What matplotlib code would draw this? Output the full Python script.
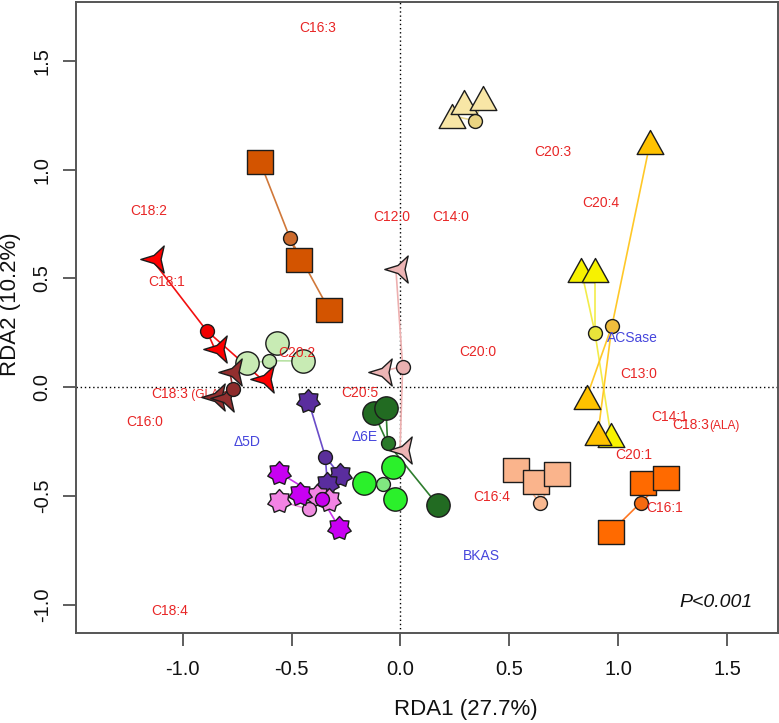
import numpy as np
import matplotlib
matplotlib.use("Agg")
import matplotlib.pyplot as plt
from matplotlib.path import Path

plt.rcParams['font.family'] = ['Liberation Sans', 'DejaVu Sans']

# ---------------- data (site scores: members + group centroid) ----------------
khaki_x = [0.235, 0.293, 0.380]; khaki_y = [1.248, 1.312, 1.330]; khaki_c = (0.341, 1.225)
yellow_x = [0.830, 0.893, 0.966]; yellow_y = [0.539, 0.539, -0.219]; yellow_c = (0.893, 0.251)
gold_x = [1.147, 0.856, 0.907]; gold_y = [1.128, -0.043, -0.211]; gold_c = (0.971, 0.282)
brown_x = [-0.645, -0.465, -0.327]; brown_y = [1.036, 0.585, 0.355]; brown_c = (-0.507, 0.684)
ltgreen_x = [-0.706, -0.566, -0.449]; ltgreen_y = [0.110, 0.202, 0.121]; ltgreen_c = (-0.602, 0.122)
red_x = [-1.142, -0.852, -0.637]; red_y = [0.588, 0.175, 0.037]; red_c = (-0.890, 0.260)
pink_x = [-0.021, -0.094, -0.002]; pink_y = [0.542, 0.072, -0.288]; pink_c = (0.010, 0.095)
purple_x = [-0.423, -0.278, -0.336]; purple_y = [-0.062, -0.403, -0.444]; purple_c = (-0.345, -0.319)
orchid_x = [-0.556, -0.385, -0.327]; orchid_y = [-0.522, -0.499, -0.518]; orchid_c = (-0.421, -0.560)
magenta_x = [-0.556, -0.461, -0.281]; magenta_y = [-0.392, -0.492, -0.645]; magenta_c = (-0.359, -0.514)
dkgreen_x = [-0.122, -0.067, 0.171]; dkgreen_y = [-0.119, -0.096, -0.541]; dkgreen_c = (-0.059, -0.257)
green_x = [-0.168, -0.036, -0.025]; green_y = [-0.441, -0.365, -0.514]; green_c = (-0.079, -0.446)
peach_x = [0.530, 0.622, 0.720]; peach_y = [-0.380, -0.434, -0.398]; peach_c = (0.640, -0.533)
orange_x = [1.115, 1.219, 0.968]; orange_y = [-0.438, -0.418, -0.663]; orange_c = (1.103, -0.530)
dkred_x = [-0.783, -0.860, -0.821]; dkred_y = [0.072, -0.043, -0.051]; dkred_c = (-0.770, -0.008)

# fatty-acid (response) labels
fa_labels = ["C16:3", "C18:2", "C12:0", "C14:0", "C20:3", "C20:4", "C18:1", "C20:2",
             "C20:5", "C16:0", "C18:4", "C20:0", "C13:0", "C14:1", "C20:1", "C16:4", "C16:1"]
fa_x = [-0.379, -1.158, -0.040, 0.232, 0.699, 0.922, -1.073, -0.477,
        -0.189, -1.173, -1.062, 0.357, 1.096, 1.237, 1.073, 0.419, 1.214]
fa_y = [1.651, 0.811, 0.784, 0.784, 1.081, 0.845, 0.485, 0.156,
        -0.025, -0.158, -1.026, 0.161, 0.060, -0.135, -0.311, -0.503, -0.556]
# labels with a smaller suffix: (main, suffix, x of join, y)
sfx_main = ["C18:3", "C18:3"]
sfx_tail = [" (GLA)", "(ALA)"]
sfx_x = [-0.976, 1.419]
sfx_y = [-0.031, -0.173]

# gene (explanatory) labels
gene_labels = ["ACSase", "\u03945D", "\u03946E", "BKAS"]
gene_x = [1.066, -0.703, -0.163, 0.370]
gene_y = [0.225, -0.250, -0.227, -0.774]

x_ticks = [-1.0, -0.5, 0.0, 0.5, 1.0, 1.5]
y_ticks = [-1.0, -0.5, 0.0, 0.5, 1.0, 1.5]

# ---------------- marker shapes ----------------
def triangle_marker():
    v = [(0, 0.9), (-1, -0.9), (1, -0.9), (0, 0.9)]
    return Path(v, [Path.MOVETO, Path.LINETO, Path.LINETO, Path.CLOSEPOLY])

def square_marker():
    v = [(-1, -0.9), (1, -0.9), (1, 0.9), (-1, 0.9), (-1, -0.9)]
    return Path(v, [Path.MOVETO] + [Path.LINETO] * 3 + [Path.CLOSEPOLY])

def star_marker(n=7, inner=0.72):
    pts = []
    for i in range(2 * n):
        r = 1.0 if i % 2 == 0 else inner
        a = np.pi / 2 + i * np.pi / n
        pts.append((r * np.cos(a), r * np.sin(a)))
    pts.append(pts[0])
    return Path(pts, [Path.MOVETO] + [Path.LINETO] * (2 * n - 1) + [Path.CLOSEPOLY])

def arrow_marker(inner=0.3):
    pts = []
    for i in range(6):
        a = np.pi + i * np.pi / 3
        r = 1.0 if i % 2 == 0 else inner
        pts.append((r * np.cos(a), r * np.sin(a)))
    pts = np.array(pts)
    cx = (pts[:, 0].max() + pts[:, 0].min()) / 2
    pts[:, 0] -= cx
    pts = np.vstack([pts, pts[:1]])
    return Path(pts, [Path.MOVETO] + [Path.LINETO] * 5 + [Path.CLOSEPOLY])

TRI, SQ, STAR, ARR = triangle_marker(), square_marker(), star_marker(), arrow_marker()

# (xs, ys, centroid, marker, size, fill, centroid fill, line colour, zorder)
groups = [
    (khaki_x, khaki_y, khaki_c, TRI, 19.2, '#F8E6A6', '#EAD482', '#E6D48C', 2),
    (yellow_x, yellow_y, yellow_c, TRI, 19.2, '#F7F200', '#E8E43A', '#F2EC4A', 2),
    (gold_x, gold_y, gold_c, TRI, 19.2, '#FFC200', '#F0BD3C', '#FFC828', 2.2),
    (brown_x, brown_y, brown_c, SQ, 18.7, '#D35400', '#CC6A2C', '#D0783A', 2),
    (ltgreen_x, ltgreen_y, ltgreen_c, 'o', 16.8, '#C8EBB4', '#C0E7AC', '#B8E2A4', 2),
    (red_x, red_y, red_c, ARR, 19.4, '#FF0000', '#F20000', '#F21010', 2.3),
    (pink_x, pink_y, pink_c, ARR, 19.4, '#EDB5B5', '#E9B0B0', '#EDB0B0', 2),
    (purple_x, purple_y, purple_c, STAR, 17.3, '#5A2D9E', '#5A2F9A', '#6A4CC8', 2),
    (orchid_x, orchid_y, orchid_c, STAR, 17.3, '#F383E4', '#F08CE0', '#F08AE0', 2),
    (magenta_x, magenta_y, magenta_c, STAR, 17.3, '#C800F2', '#C800EE', '#C833EE', 2.1),
    (dkgreen_x, dkgreen_y, dkgreen_c, 'o', 16.8, '#226B22', '#2A7A2A', '#2E7D2E', 2),
    (green_x, green_y, green_c, 'o', 16.8, '#2BF02B', '#80E880', '#40D040', 2),
    (peach_x, peach_y, peach_c, SQ, 18.7, '#FAB48C', '#F8B890', '#F8B088', 2),
    (orange_x, orange_y, orange_c, SQ, 18.7, '#FF6A00', '#F56A10', '#FF7722', 2),
    (dkred_x, dkred_y, dkred_c, ARR, 19.4, '#932F2F', '#8E2C2C', '#8E2C2C', 4),
]

# ---------------- figure ----------------
W, H = 779, 723
fig = plt.figure(figsize=(W / 100, H / 100), dpi=100)
ax = fig.add_axes([76 / W, (H - 633.3) / H, (778.3 - 76) / W, (633.3 - 2) / H])
ax.set_xlim(-1.490, 1.735)
ax.set_ylim(-1.130, 1.770)

ax.axhline(0, color='black', lw=1.0, ls=(0, (1, 2)), zorder=1)
ax.axvline(0, color='black', lw=1.0, ls=(0, (1, 2)), zorder=1)

edge = '#1c1c1c'
for xs, ys, c, mk, ms, fc, cfc, lc, z in groups:
    for xi, yi in zip(xs, ys):
        ax.plot([c[0], xi], [c[1], yi], color=lc, lw=1.2, zorder=z - 0.6)
    ax.plot(xs, ys, ls='none', marker=mk, ms=ms, mfc=fc, mec=edge, mew=1.0, zorder=z)
    ax.plot([c[0]], [c[1]], ls='none', marker='o', ms=10, mfc=cfc, mec=edge, mew=1.0,
            zorder=z + 0.05)

red_txt = '#E82626'
blue_txt = '#4646DC'
for t, xi, yi in zip(fa_labels, fa_x, fa_y):
    ax.text(xi, yi, t, color=red_txt, fontsize=10, ha='center', va='center', zorder=3)
for m, s, xi, yi in zip(sfx_main, sfx_tail, sfx_x, sfx_y):
    ax.text(xi, yi, m, color=red_txt, fontsize=10, ha='right', va='center', zorder=3)
    ax.text(xi, yi - 0.004, s, color=red_txt, fontsize=8.6, ha='left', va='center', zorder=3)
for t, xi, yi in zip(gene_labels, gene_x, gene_y):
    ax.text(xi, yi, t, color=blue_txt, fontsize=10, ha='center', va='center', zorder=3)

ax.text(1.449, -0.989, 'P<0.001', style='italic', fontsize=14, ha='center', va='center',
        color='#111111', zorder=5)

for sp in ax.spines.values():
    sp.set_color('#555555')
    sp.set_linewidth(1.4)

ax.set_xticks(x_ticks)
ax.set_yticks(y_ticks)
ax.set_xticklabels([f'{v:.1f}' for v in x_ticks])
ax.set_yticklabels([f'{v:.1f}' for v in y_ticks])
ax.tick_params(axis='both', direction='out', length=9.1, width=1.1, color='#333333',
               labelsize=14.5, labelcolor='#111111')
ax.tick_params(axis='x', pad=9.8)
ax.tick_params(axis='y', pad=8.4, labelrotation=90)
for lab in ax.get_yticklabels():
    lab.set_va('center')

fig.text(466 / W, 1 - 709 / H, 'RDA1 (27.7%)', fontsize=16, ha='center', va='center',
         color='#111111')
fig.text(10.5 / W, 1 - 304 / H, 'RDA2 (10.2%)', fontsize=16, ha='center', va='center',
         rotation=90, color='#111111')

fig.savefig('out.png', dpi=100)
